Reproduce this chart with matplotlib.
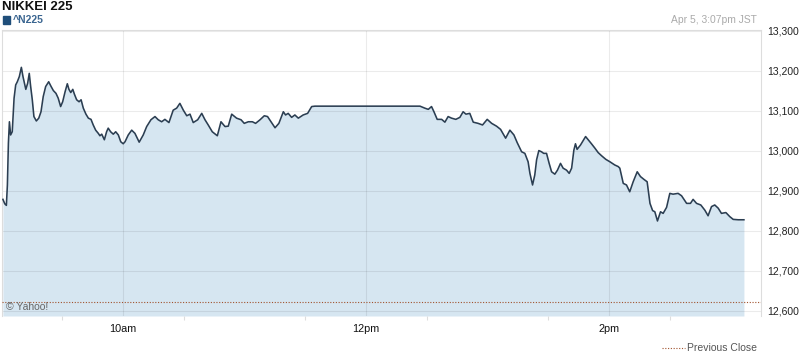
import matplotlib
matplotlib.use("Agg")
import matplotlib.pyplot as plt
from matplotlib.lines import Line2D

plt.rcParams['font.family'] = ['Liberation Sans', 'DejaVu Sans']

# minutes after 9:00 JST
minutes = [0.7, 1.6, 2.4, 2.9, 3.4, 3.9, 4.5, 5.3, 6.2, 7.0, 7.8, 8.8, 9.8, 10.6, 12.0, 12.9,
           13.7, 14.4, 15.2, 16.0, 17.2, 18.4, 19.5, 20.6, 21.8, 23.3, 24.4, 25.6, 26.9, 28.0,
           29.2, 30.2, 31.4, 32.5, 33.3, 34.2, 35.2, 36.0, 37.1, 38.3, 39.3, 40.4, 41.7, 42.9,
           44.2, 45.3, 46.5, 47.8, 48.6, 49.5, 50.8, 51.9, 52.7, 53.9, 55.2, 56.4, 57.7, 58.9,
           60.1, 61.0, 62.6, 64.3, 65.9, 68.0, 70.0, 71.7, 73.8, 75.8, 77.4, 79.1, 80.7, 82.7,
           84.8, 86.5, 88.1, 89.8, 91.5, 93.1, 94.7, 96.9, 98.9, 100.5, 102.1, 104.1, 106.6,
           108.4, 110.4, 112.0, 113.7, 116.1, 118.3, 119.9, 121.9, 123.9, 125.5, 127.7, 129.8,
           131.4, 133.1, 135.1, 137.0, 139.2, 140.3, 141.6, 143.3, 144.9, 146.6, 149.0, 151.2,
           153.2, 154.8, 206.7, 209.1, 210.8, 212.4, 213.6, 215.2, 217.4, 219.0, 220.6, 222.3,
           224.4, 226.4, 228.0, 229.4, 231.3, 233.0, 235.4, 237.6, 239.9, 242.1, 244.5, 246.5,
           249.0, 251.1, 253.1, 254.7, 256.9, 258.5, 260.1, 261.0, 262.3, 263.4, 264.3, 265.4,
           266.7, 267.8, 269.2, 270.5, 271.7, 273.3, 274.6, 276.1, 277.4, 279.1, 280.4, 281.6,
           282.7, 283.5, 284.3, 286.0, 287.3, 288.5, 289.8, 291.4, 293.1, 294.7, 296.4, 298.5,
           300.5, 302.9, 304.6, 305.4, 307.1, 308.7, 310.3, 312.0, 314.0, 315.6, 317.3, 318.9,
           320.3, 321.6, 322.7, 324.0, 325.5, 326.8, 328.5, 330.1, 331.7, 334.2, 335.9, 338.4,
           340.3, 341.6, 343.3, 345.4, 347.4, 349.0, 350.7, 352.3, 354.0, 355.6, 357.8, 359.7,
           361.4, 363.9, 366.7]

prices = [12879, 12868, 12864, 12915, 13020, 13073, 13040, 13048, 13132, 13165, 13173, 13186,
          13209, 13186, 13154, 13169, 13194, 13161, 13128, 13086, 13075, 13082, 13098, 13136,
          13161, 13173, 13162, 13151, 13144, 13132, 13111, 13123, 13148, 13168, 13154, 13146,
          13154, 13142, 13128, 13123, 13128, 13107, 13092, 13082, 13079, 13065, 13052, 13044,
          13038, 13042, 13028, 13048, 13057, 13048, 13042, 13048, 13040, 13023, 13018, 13023,
          13040, 13052, 13044, 13022, 13040, 13061, 13078, 13086, 13078, 13073, 13079, 13071,
          13102, 13107, 13119, 13102, 13088, 13092, 13071, 13078, 13094, 13078, 13065, 13048,
          13038, 13073, 13061, 13062, 13092, 13082, 13078, 13069, 13073, 13073, 13069, 13078,
          13088, 13086, 13073, 13058, 13069, 13098, 13090, 13094, 13084, 13090, 13082, 13090,
          13094, 13111, 13112, 13112, 13107, 13104, 13111, 13098, 13079, 13079, 13072, 13086,
          13082, 13079, 13084, 13098, 13092, 13094, 13072, 13069, 13065, 13079, 13069, 13062,
          13054, 13032, 13052, 13040, 13021, 12998, 12994, 12973, 12944, 12915, 12940, 12978,
          13001, 12998, 12994, 12994, 12969, 12948, 12942, 12952, 12969, 12957, 12952, 12944,
          12957, 13002, 13018, 13004, 13015, 13026, 13036, 13028, 13018, 13007, 12996, 12988,
          12979, 12973, 12965, 12961, 12957, 12919, 12915, 12898, 12923, 12948, 12936, 12929,
          12923, 12869, 12851, 12848, 12825, 12848, 12844, 12859, 12894, 12892, 12894, 12888,
          12869, 12869, 12879, 12869, 12865, 12852, 12838, 12861, 12865, 12857, 12844, 12846,
          12836, 12829, 12828, 12828]

previous_close = 12622
y_ticks = [12600, 12700, 12800, 12900, 13000, 13100, 13200, 13300]
x_tick_pos = [60, 180, 300]
x_tick_labels = ['10am', '12pm', '2pm']
x_minor_pos = [30, 90, 150, 210, 270, 330]

title = 'NIKKEI 225'
symbol = '^N225'
timestamp = 'Apr 5, 3:07pm JST'

fig = plt.figure(figsize=(8.0, 3.63), dpi=100)
ax = fig.add_axes([0.0019, 0.1295, 0.949, 0.788])

ymin, ymax = 12587.5, 13302.5
ax.set_xlim(0, 375)
ax.set_ylim(ymin, ymax)

ax.fill_between(minutes, prices, ymin, color='#d6e6f1', linewidth=0, zorder=1)
for yv in y_ticks:
    ax.axhline(yv, color='black', alpha=0.08, lw=0.8, zorder=2)
for xv in x_tick_pos:
    ax.axvline(xv, color='black', alpha=0.08, lw=0.8, zorder=2)
ax.axhline(previous_close, color='#a0522d', lw=0.8, ls=(0, (1, 1.5)), zorder=3)
ax.plot(minutes, prices, color='#2b3e52', lw=1.15, zorder=4)

ax.yaxis.tick_right()
ax.set_yticks(y_ticks)
ax.set_yticklabels([f'{v:,}' for v in y_ticks])
ax.tick_params(axis='y', length=0, pad=5, labelsize=7.5, labelcolor='#222222')
ax.set_xticks(x_tick_pos)
ax.set_xticklabels(x_tick_labels)
ax.set_xticks(x_minor_pos, minor=True)
ax.tick_params(axis='x', which='major', length=0, pad=6, labelsize=7.8, labelcolor='#111111')
ax.tick_params(axis='x', which='minor', length=3, color='#dddddd', width=0.8)

for side in ['top', 'right', 'left']:
    ax.spines[side].set_color('#dddddd')
    ax.spines[side].set_linewidth(0.8)
ax.spines['bottom'].set_visible(False)

ax.text(0.006, 0.03, '\u00a9 Yahoo!', transform=ax.transAxes, fontsize=7.5,
        color='#666666', va='center', ha='left', zorder=5)

fig.text(0.003, 0.981, title, fontsize=9.5, fontweight='bold', color='#111111',
         va='center', ha='left')
fig.patches.append(plt.Rectangle((0.0034, 0.934), 0.0097, 0.022, transform=fig.transFigure,
                                 color='#1f4e7a', figure=fig))
fig.text(0.016, 0.945, symbol, fontsize=7.5, fontweight='bold', color='#3a6590',
         va='center', ha='left')
fig.text(0.946, 0.945, timestamp, fontsize=7.4, color='#aaaaaa', va='center', ha='right')

fig.lines.append(Line2D([0.828, 0.856], [0.041, 0.041], transform=fig.transFigure,
                        color='#a0522d', lw=0.8, ls=(0, (1, 1.5))))
fig.text(0.859, 0.041, 'Previous Close', fontsize=7.5, color='#555555', va='center', ha='left')

fig.savefig('out.png', dpi=100)
